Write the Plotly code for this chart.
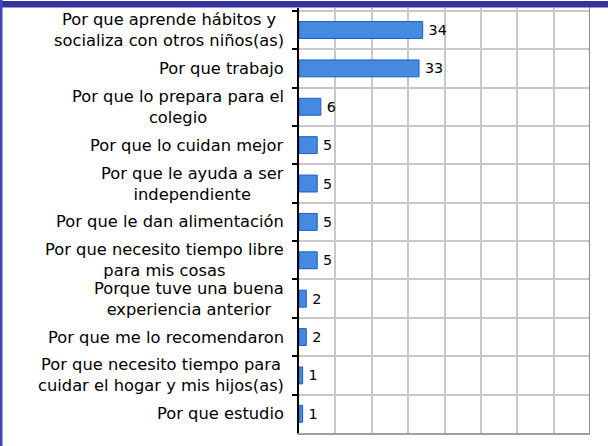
import plotly.graph_objects as go

# Data
reasons = [
    'Por que aprende hábitos y<br>socializa con otros niños(as)',
    'Por que trabajo',
    'Por que lo prepara para el<br>colegio',
    'Por que lo cuidan mejor',
    'Por que le ayuda a ser<br>independiente',
    'Por que le dan alimentación',
    'Por que necesito tiempo libre<br>para mis cosas',
    'Porque tuve una buena<br>experiencia anterior',
    'Por que me lo recomendaron',
    'Por que necesito tiempo para<br>cuidar el hogar y mis hijos(as)',
    'Por que estudio',
]
counts = [34, 33, 6, 5, 5, 5, 5, 2, 2, 1, 1]

W, H = 608, 446
L, R, T, B = 299, 18, 8, 13
pw, ph = W - L - R, H - T - B


def px(x):
    return (x - L) / pw


def py(y):
    return (H - B - y) / ph


font = 'DejaVu Sans, Verdana, sans-serif'

fig = go.Figure()
fig.add_trace(go.Bar(
    x=counts, y=reasons, orientation='h',
    marker=dict(color='#4689e0', line=dict(color='#1a5cc6', width=1)),
    texttemplate='\u2009%{x}', textposition='outside', cliponaxis=False,
    textfont=dict(family=font, size=17, color='black'),
))

# category labels, centered lines like the original
for r in reasons:
    fig.add_annotation(x=px(286), xref='paper', y=r, yref='y', text=r,
                       showarrow=False, xanchor='right', align='center',
                       font=dict(family=font, size=16.3, color='black'))

fig.update_layout(
    width=W, height=H,
    margin=dict(l=L, r=R, t=T, b=B, autoexpand=False),
    paper_bgcolor='white', plot_bgcolor='white',
    showlegend=False, bargap=0.56,
    xaxis=dict(range=[0, 80], dtick=10, showticklabels=False,
               showgrid=True, gridcolor='#c8c8c8', gridwidth=2,
               zeroline=False, showline=True, linecolor='#a0a0a0', linewidth=2),
    yaxis=dict(autorange='reversed', showticklabels=False, tickson='boundaries',
               ticks='outside', ticklen=5, tickcolor='black', tickwidth=1.5,
               showgrid=True, gridcolor='#c8c8c8', gridwidth=2,
               showline=True, linecolor='black', linewidth=2),
    shapes=[
        # right edge of plot area
        dict(type='line', xref='x', yref='paper', x0=80, x1=80, y0=0, y1=py(7),
             line=dict(color='#8c8c8c', width=2)),
        # frame top
        dict(type='rect', xref='paper', yref='paper', x0=px(2), x1=px(608),
             y0=py(7.5), y1=py(1), fillcolor='#333399', line=dict(width=0)),
        # frame left
        dict(type='rect', xref='paper', yref='paper', x0=px(0), x1=px(2.5),
             y0=py(446), y1=py(0), fillcolor='#4545b5', line=dict(width=0)),
    ],
)

fig.write_html(
    'out.html', config={'displayModeBar': False},
    post_script=("document.body.style.margin='0';"
                 "document.documentElement.style.overflow='hidden';"
                 "window.scrollTo(0,0);"))
